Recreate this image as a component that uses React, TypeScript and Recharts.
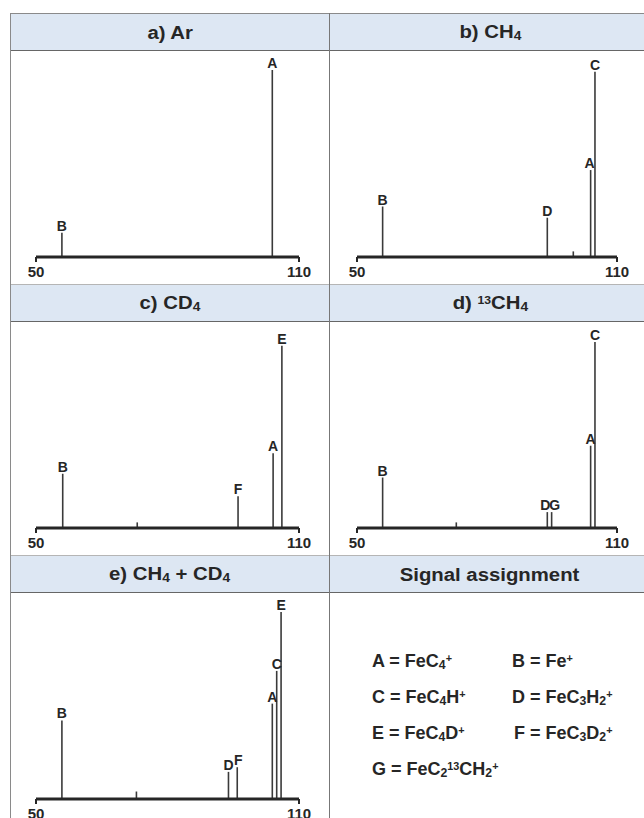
import React from 'react'
import { BarChart, Bar, XAxis, YAxis, LabelList } from 'recharts'

// m/z axis ticks
const massTicks = [50, 110]

// a) Ar
const arMass = [56, 104]
const arIntensity = [13, 100]
const arLabels = ['B', 'A']

// b) CH4
const ch4Mass = [56, 94, 100, 104, 105]
const ch4Intensity = [27, 21, 3, 46.5, 99]
const ch4Labels = ['B', 'D', '', 'A', 'C']

// c) CD4
const cd4Mass = [56, 73, 96, 104, 106]
const cd4Intensity = [29, 3, 17, 40, 97.5]
const cd4Labels = ['B', '', 'F', 'A', 'E']

// d) 13CH4
const c13Mass = [56, 73, 94, 95, 104, 105]
const c13Intensity = [27, 3, 8.5, 8.5, 44, 99.5]
const c13Labels = ['B', '', 'D', 'G', 'A', 'C']

// e) CH4 + CD4
const mixMass = [56, 73, 94, 96, 104, 105, 106]
const mixIntensity = [42, 4, 14.5, 17, 51, 68.5, 100]
const mixLabels = ['B', '', 'D', 'F', 'A', 'C', 'E']

const FONT = '"Liberation Sans", Arial, Helvetica, sans-serif'
const INK = '#262626'

const toRows = (mass: number[], intensity: number[], labels: string[]) =>
  mass.map((m, i) => ({ mass: m, intensity: intensity[i], label: labels[i] }))

const peakLabel = (shift: Record<string, number>) => (props: any) => {
  const vb = props.viewBox || props
  const value = props.value
  if (!value) return null
  const x = vb.x + vb.width / 2 + (shift[value] ?? 0)
  return (
    <text x={x} y={vb.y - 2} textAnchor="middle" fontSize={14} fontWeight="bold" fill={INK} fontFamily={FONT}>
      {value}
    </text>
  )
}

function Spectrum({ rows, side, shift = {} }: { rows: any[]; side: 'left' | 'right'; shift?: Record<string, number> }) {
  const margin = side === 'left' ? { top: 19, right: 30, bottom: 0, left: 25 } : { top: 19, right: 31, bottom: 0, left: 27 }
  return (
    <BarChart width={318} height={232} data={rows} margin={margin} barSize={1.6}>
      <XAxis
        type="number"
        dataKey="mass"
        domain={[50, 110]}
        ticks={massTicks}
        interval={0}
        allowDataOverflow
        height={26}
        tickSize={5}
        tickMargin={4}
        axisLine={{ stroke: INK, strokeWidth: 3 }}
        tickLine={{ stroke: INK, strokeWidth: 2 }}
        tick={{ fontSize: 15, fontWeight: 'bold', fill: INK, fontFamily: FONT }}
      />
      <YAxis hide domain={[0, 100]} />
      <Bar dataKey="intensity" fill="#3a3a3a" isAnimationActive={false}>
        <LabelList dataKey="label" content={peakLabel(shift)} />
      </Bar>
    </BarChart>
  )
}

const sub = (t: string) => (
  <span style={{ fontSize: '0.68em', position: 'relative', top: 2 }}>{t}</span>
)
const sup = (t: string) => (
  <span style={{ fontSize: '0.6em', position: 'relative', top: -5 }}>{t}</span>
)

function Header({ children, first }: { children: React.ReactNode; first?: boolean }) {
  return (
    <div
      style={{
        height: 33,
        paddingTop: 3,
        borderTop: `1px solid ${first ? '#8a8a8a' : '#b5b5b5'}`,
        borderBottom: '1px solid #666',
        background: '#dde7f3',
        display: 'flex',
        alignItems: 'center',
        justifyContent: 'center',
      }}
    >
      <span
        style={{
          display: 'inline-block',
          fontSize: 18,
          fontWeight: 'bold',
          color: INK,
          transform: 'scaleX(1.13)',
          lineHeight: '33px',
          whiteSpace: 'nowrap',
        }}
      >
        {children}
      </span>
    </div>
  )
}

function Cell({ title, first, children }: { title: React.ReactNode; first?: boolean; children: React.ReactNode }) {
  return (
    <div>
      <Header first={first}>{title}</Header>
      <div style={{ height: 233, position: 'relative' }}>{children}</div>
    </div>
  )
}

const assignLine = { fontSize: 18, fontWeight: 'bold' as const, color: INK, lineHeight: '34px', whiteSpace: 'nowrap' as const }

function Assignment() {
  return (
    <div style={{ position: 'absolute', left: 42, top: 51, display: 'grid', gridTemplateColumns: '140px auto' }}>
      <div style={assignLine}>A = FeC{sub('4')}{sup('+')}</div>
      <div style={assignLine}>B = Fe{sup('+')}</div>
      <div style={assignLine}>C = FeC{sub('4')}H{sup('+')}</div>
      <div style={assignLine}>D = FeC{sub('3')}H{sub('2')}{sup('+')}</div>
      <div style={assignLine}>E = FeC{sub('4')}D{sup('+')}</div>
      <div style={{ ...assignLine, paddingLeft: 2 }}>F = FeC{sub('3')}D{sub('2')}{sup('+')}</div>
      <div style={assignLine}>
        G = FeC{sub('2')}{sup('13')}CH{sub('2')}{sup('+')}
      </div>
    </div>
  )
}

export default function App() {
  return (
    <div style={{ position: 'absolute', left: 0, top: 0, width: 644, height: 818, overflow: 'hidden', background: '#fff', fontFamily: FONT }}>
      <div style={{ position: 'absolute', left: 10, top: 13, width: 640, borderLeft: '1px solid #8a8a8a', display: 'flex' }}>
        <div style={{ width: 319, borderRight: '1px solid #777', boxSizing: 'border-box' }}>
          <Cell title="a) Ar" first>
            <Spectrum rows={toRows(arMass, arIntensity, arLabels)} side="left" />
          </Cell>
          <Cell title={<>c) CD{sub('4')}</>}>
            <Spectrum rows={toRows(cd4Mass, cd4Intensity, cd4Labels)} side="left" />
          </Cell>
          <Cell title={<>e) CH{sub('4')} + CD{sub('4')}</>}>
            <Spectrum rows={toRows(mixMass, mixIntensity, mixLabels)} side="left" shift={{ F: 1 }} />
          </Cell>
        </div>
        <div style={{ width: 320 }}>
          <Cell title={<>b) CH{sub('4')}</>} first>
            <Spectrum rows={toRows(ch4Mass, ch4Intensity, ch4Labels)} side="right" shift={{ A: -1 }} />
          </Cell>
          <Cell title={<>d) {sup('13')}CH{sub('4')}</>}>
            <Spectrum rows={toRows(c13Mass, c13Intensity, c13Labels)} side="right" shift={{ D: -2, G: 3 }} />
          </Cell>
          <Cell title="Signal assignment">
            <Assignment />
          </Cell>
        </div>
      </div>
    </div>
  )
}
